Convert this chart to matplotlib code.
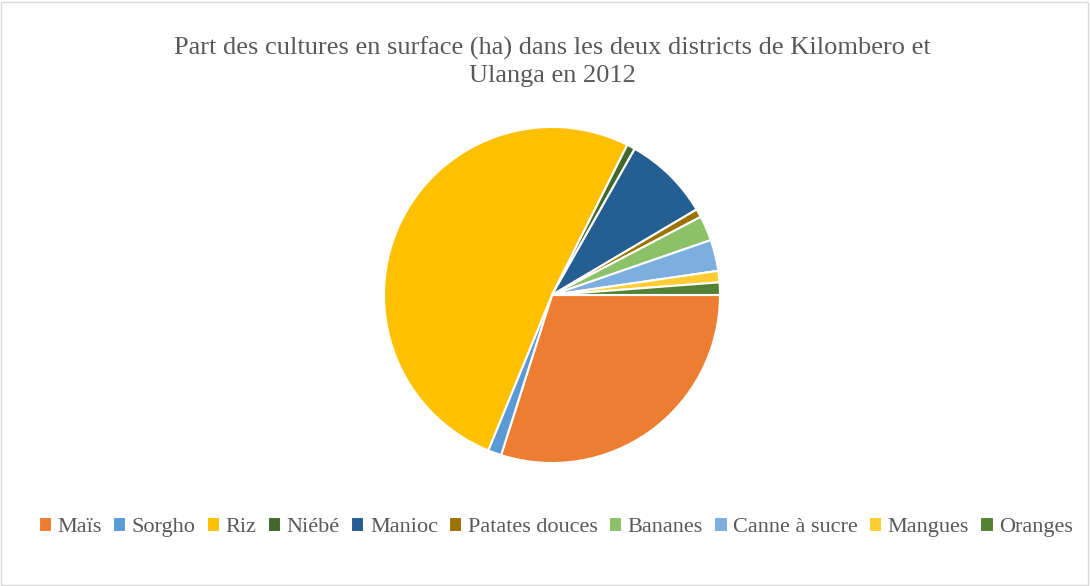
import matplotlib.pyplot as plt
from matplotlib.patches import Rectangle

# parts des cultures (%)
cultures = ['Maïs', 'Sorgho', 'Riz', 'Niébé', 'Manioc', 'Patates douces',
            'Bananes', 'Canne à sucre', 'Mangues', 'Oranges']
parts = [29.9, 1.3, 51.2, 0.8, 8.3, 0.8, 2.4, 3.0, 1.1, 1.2]
couleurs = ['#ED7D31', '#5B9BD5', '#FFC000', '#43682B', '#255E91', '#9E7200',
            '#8CC168', '#7CAFDD', '#FFCD33', '#548235']

plt.rcParams['font.family'] = ['Liberation Serif', 'DejaVu Serif']

fig = plt.figure(figsize=(10.9, 5.86), dpi=100)
fig.patches.append(Rectangle((0.001, 0.002), 0.997, 0.995, transform=fig.transFigure,
                             fill=False, edgecolor='#D9D9D9', linewidth=1))

# axe centré sur le camembert
ax = fig.add_axes([(552 - 170) / 1090, (586 - 295 - 170) / 586, 340 / 1090, 340 / 586])
wedges, _ = ax.pie(parts, colors=couleurs, startangle=0, counterclock=False,
                   radius=168 / 170,
                   wedgeprops=dict(edgecolor='white', linewidth=1.5))
ax.set_xlim(-1, 1)
ax.set_ylim(-1, 1)
ax.set_aspect('equal')

fig.text(0.5064, 0.937, 'Part des cultures en surface (ha) dans les deux districts de Kilombero et\nUlanga en 2012',
         ha='center', va='top', fontsize=19, color='#595959', linespacing=1.3)

leg = fig.legend(wedges, cultures, loc='center', bbox_to_anchor=(0.51, 0.1), ncol=10,
                 frameon=False, prop={'family': ['Liberation Serif', 'DejaVu Serif'], 'size': 16},
                 handlelength=0.6, handleheight=0.6,
                 handletextpad=0.25, columnspacing=0.5, labelcolor='#595959')

fig.savefig('out.png', dpi=100)
